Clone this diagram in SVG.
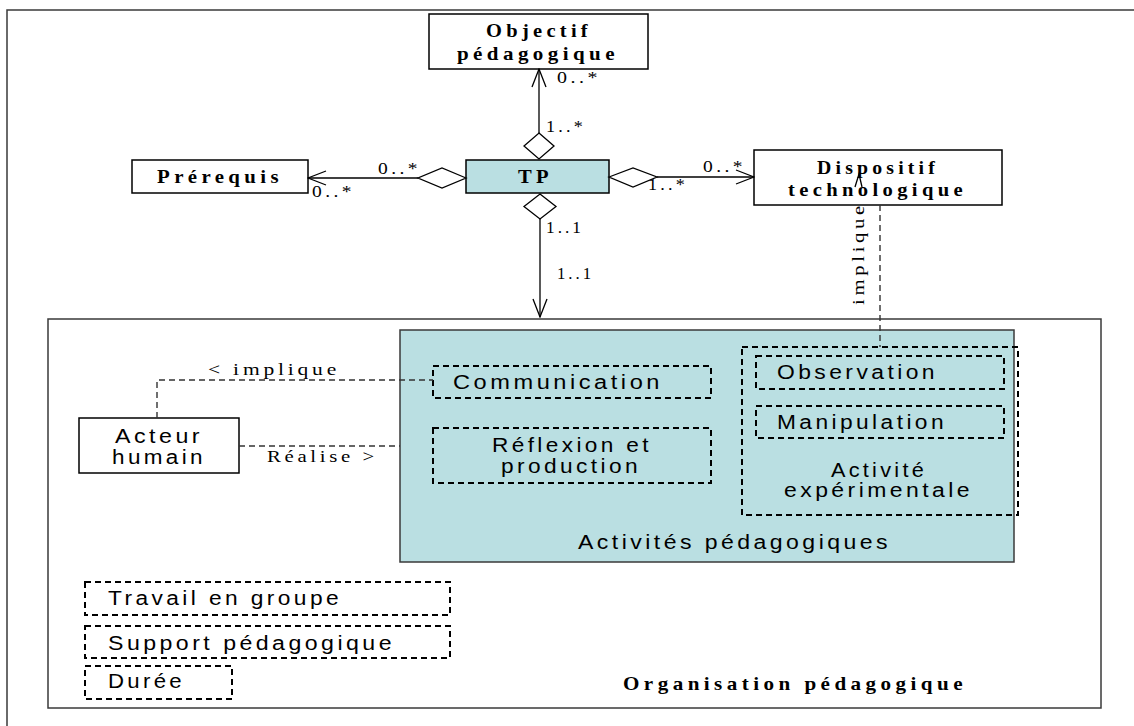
<svg xmlns="http://www.w3.org/2000/svg" width="1134" height="726" viewBox="0 0 1134 726">
<defs>
<style>
.box{fill:#fff;stroke:#000;stroke-width:1.5}
.teal{fill:#badfe2;stroke:#000;stroke-width:1.5}
.frame{fill:none;stroke:#3a3a3a;stroke-width:1.5}
.dbox{fill:none;stroke:#000;stroke-width:2;stroke-dasharray:6 4}
.line{fill:none;stroke:#000;stroke-width:1.3}
.dash{fill:none;stroke:#333;stroke-width:1.4;stroke-dasharray:6 4}
.diam{fill:#fff;stroke:#000;stroke-width:1.3}
.sb{font-family:"Liberation Serif",serif;font-weight:bold;font-size:19px;letter-spacing:4px;fill:#000}
.sr{font-family:"Liberation Serif",serif;font-size:17px;letter-spacing:3px;fill:#000}
.ss{font-family:"Liberation Sans",Arial,sans-serif;font-size:20px;letter-spacing:3px;fill:#000}
</style>
<marker id="open" viewBox="0 0 20 20" refX="19" refY="10" markerWidth="20" markerHeight="20" markerUnits="userSpaceOnUse" orient="auto">
<path d="M1,3 L19,10 L1,17" fill="none" stroke="#000" stroke-width="1.3"/>
</marker>
</defs>
<rect width="1134" height="726" fill="#fff"/>
<rect x="7" y="10" width="1140" height="730" class="frame"/>

<g id="organisation">
<rect x="48" y="319" width="1053" height="389" fill="#fff" stroke="#3a3a3a" stroke-width="1.5"/>
<text class="sb" x="623" y="690" textLength="344" lengthAdjust="spacingAndGlyphs">Organisation pédagogique</text>
</g>

<g id="activites">
<rect x="400" y="330" width="614" height="232" fill="#badfe2" stroke="#3a3a3a" stroke-width="1.5"/>
<text class="ss" x="578" y="549" textLength="313" lengthAdjust="spacingAndGlyphs">Activités pédagogiques</text>
</g>

<g id="communication">
<rect x="433" y="366" width="278" height="32" class="dbox"/>
<text class="ss" x="453" y="389" textLength="210" lengthAdjust="spacingAndGlyphs">Communication</text>
</g>

<g id="reflexion">
<rect x="433" y="428" width="278" height="55" class="dbox"/>
<text class="ss" x="492" y="452" textLength="160" lengthAdjust="spacingAndGlyphs">Réflexion et</text>
<text class="ss" x="501" y="473" textLength="140" lengthAdjust="spacingAndGlyphs">production</text>
</g>

<g id="activite-experimentale">
<rect x="742" y="347" width="276" height="168" class="dbox"/>
<text class="ss" x="831" y="477" textLength="96" lengthAdjust="spacingAndGlyphs">Activité</text>
<text class="ss" x="784" y="497" textLength="189" lengthAdjust="spacingAndGlyphs">expérimentale</text>
</g>

<g id="observation">
<rect x="756" y="356" width="248" height="33" class="dbox"/>
<text class="ss" x="777" y="379" textLength="161" lengthAdjust="spacingAndGlyphs">Observation</text>
</g>

<g id="manipulation">
<rect x="756" y="406" width="248" height="32" class="dbox"/>
<text class="ss" x="777" y="429" textLength="170" lengthAdjust="spacingAndGlyphs">Manipulation</text>
</g>

<g id="acteur">
<rect x="79" y="418" width="160" height="55" class="box"/>
<text class="ss" x="115" y="443" textLength="88" lengthAdjust="spacingAndGlyphs">Acteur</text>
<text class="ss" x="112" y="464" textLength="94" lengthAdjust="spacingAndGlyphs">humain</text>
</g>

<g id="travail">
<rect x="85" y="582" width="365" height="33" class="dbox"/>
<text class="ss" x="108" y="605" textLength="234" lengthAdjust="spacingAndGlyphs">Travail en groupe</text>
</g>

<g id="support">
<rect x="85" y="626" width="365" height="32" class="dbox"/>
<text class="ss" x="108" y="650" textLength="287" lengthAdjust="spacingAndGlyphs">Support pédagogique</text>
</g>

<g id="duree">
<rect x="85" y="666" width="147" height="33" class="dbox"/>
<text class="ss" x="108" y="688" textLength="77" lengthAdjust="spacingAndGlyphs">Durée</text>
</g>

<g id="objectif">
<rect x="429" y="14" width="219" height="55" class="box"/>
<text class="sb" x="486" y="37" textLength="106" lengthAdjust="spacingAndGlyphs">Objectif</text>
<text class="sb" x="457" y="60" textLength="162" lengthAdjust="spacingAndGlyphs">pédagogique</text>
</g>

<g id="tp">
<rect x="466" y="160" width="143" height="33" class="teal"/>
<text class="sb" x="518" y="183" textLength="35" lengthAdjust="spacingAndGlyphs">TP</text>
</g>

<g id="prerequis">
<rect x="132" y="160" width="176" height="33" class="box"/>
<text class="sb" x="157" y="183" textLength="126" lengthAdjust="spacingAndGlyphs">Prérequis</text>
</g>

<g id="dispositif">
<rect x="754" y="150" width="248" height="55" class="box"/>
<text class="sb" x="817" y="174" textLength="122" lengthAdjust="spacingAndGlyphs">Dispositif</text>
<text class="sb" x="788" y="196" textLength="179" lengthAdjust="spacingAndGlyphs">technologique</text>
</g>

<g id="connectors">
<line x1="539" y1="133" x2="539" y2="69" class="line" marker-end="url(#open)"/>
<polygon points="539,133 554,146 539,159 524,146" class="diam"/>
<text class="sr" x="557" y="83" textLength="44" lengthAdjust="spacingAndGlyphs">0..*</text>
<text class="sr" x="546" y="132" textLength="40" lengthAdjust="spacingAndGlyphs">1..*</text>

<line x1="418" y1="178" x2="308" y2="178" class="line" marker-end="url(#open)"/>
<polygon points="466,178 442,168 418,178 442,188" class="diam"/>
<text class="sr" x="378" y="174" textLength="43" lengthAdjust="spacingAndGlyphs">0..*</text>
<text class="sr" x="312" y="197" textLength="43" lengthAdjust="spacingAndGlyphs">0..*</text>

<line x1="657" y1="177" x2="754" y2="177" class="line" marker-end="url(#open)"/>
<polygon points="609,177 633,168 657,177 633,187" class="diam"/>
<text class="sr" x="703" y="172" textLength="43" lengthAdjust="spacingAndGlyphs">0..*</text>
<text class="sr" x="648" y="190" textLength="40" lengthAdjust="spacingAndGlyphs">1..*</text>

<line x1="540" y1="219" x2="540" y2="317" class="line" marker-end="url(#open)"/>
<polygon points="540,194 556,206.5 540,219 524,206.5" class="diam"/>
<text class="sr" x="546" y="233" textLength="38" lengthAdjust="spacingAndGlyphs">1..1</text>
<text class="sr" x="557" y="279" textLength="37" lengthAdjust="spacingAndGlyphs">1..1</text>

<line x1="880" y1="205" x2="880" y2="347" class="dash"/>
<polyline points="855,187 859,174 862,187" class="line"/>
<text class="sr" transform="translate(864,305) rotate(-90)" x="0" y="0" textLength="103" lengthAdjust="spacingAndGlyphs">implique</text>

<polyline points="157,418 157,380 433,380" class="dash"/>
<text class="sr" x="208" y="375" textLength="132" lengthAdjust="spacingAndGlyphs">&lt; implique</text>

<line x1="239" y1="446" x2="400" y2="446" class="dash"/>
<text class="sr" x="267" y="462" textLength="111" lengthAdjust="spacingAndGlyphs">Réalise &gt;</text>
</g>
</svg>
